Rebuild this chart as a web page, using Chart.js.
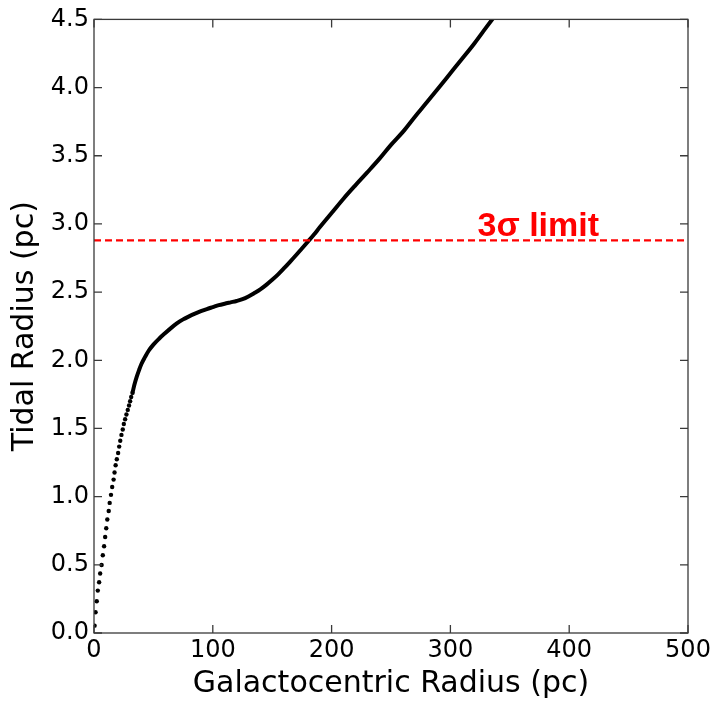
<!DOCTYPE html>
<html>
<head>
<meta charset="utf-8">
<script src="https://cdn.jsdelivr.net/npm/chart.js@4/dist/chart.umd.min.js"></script>
<style>
  html, body { margin: 0; padding: 0; background: #fff; }
  #wrap { width: 717px; height: 705px; }
</style>
</head>
<body>
<div id="wrap"><canvas id="c" width="717" height="705"></canvas></div>
<script>
// tidal radius vs galactocentric radius
// sparse start of the curve (individual dots visible)
const dotX = [0.5, 1.3, 2.3, 3.2, 4.3, 5.2, 6.4, 7.4, 8.5, 9.4, 10.3, 11.2, 12.4, 13.2, 14.3, 15.3,
  16.5, 17.3, 18.2, 19.2, 20.3, 21.2, 22.1, 23.1, 24.2, 25.1, 26.2, 27.3, 28.4, 29.5, 30.4, 31.3, 32.4];
const dotY = [0.054, 0.152, 0.233, 0.311, 0.372, 0.436, 0.499, 0.570, 0.636, 0.704, 0.768, 0.832, 0.895,
  0.954, 1.013, 1.071, 1.125, 1.177, 1.230, 1.274, 1.320, 1.367, 1.410, 1.453, 1.492, 1.533, 1.568,
  1.602, 1.636, 1.668, 1.700, 1.731, 1.761];
// dense part (dots merge into a solid curve)
const curveX = [32.4, 34, 36, 38, 40, 43, 46, 50, 55, 60, 65, 70, 75, 80, 85, 90, 95, 100, 105, 110,
  115, 120, 125, 130, 135, 140, 145, 150, 155, 160, 165, 170, 175, 180, 185, 190, 200, 210, 220, 230,
  240, 250, 260, 270, 280, 290, 300, 310, 320, 330, 340];
const curveY = [1.761, 1.82, 1.88, 1.93, 1.975, 2.025, 2.07, 2.115, 2.16, 2.20, 2.238, 2.272, 2.30,
  2.322, 2.342, 2.36, 2.376, 2.39, 2.404, 2.415, 2.425, 2.435, 2.448, 2.468, 2.493, 2.52, 2.553, 2.59,
  2.63, 2.675, 2.722, 2.77, 2.82, 2.87, 2.92, 2.975, 3.08, 3.185, 3.283, 3.378, 3.475, 3.58, 3.675,
  3.785, 3.89, 3.997, 4.105, 4.213, 4.322, 4.44, 4.555];

const limitY = 2.88;
const limitLabel = '3σ limit';
const limitLabelAt = [374, 2.915];

const xTicks = [0, 100, 200, 300, 400, 500];
const yTicks = [0.0, 0.5, 1.0, 1.5, 2.0, 2.5, 3.0, 3.5, 4.0, 4.5];

const FRAME = '#3a3a3a';

const toPts = (xs, ys) => xs.map((x, i) => ({ x, y: ys[i] }));

// matplotlib-style box with inward ticks on all four sides + the red label
const framePlugin = {
  id: 'frame',
  afterDatasetsDraw(chart) {
    const { ctx, chartArea: a, scales } = chart;
    ctx.save();
    ctx.strokeStyle = FRAME;
    ctx.lineWidth = 1.3;
    ctx.strokeRect(a.left, a.top, a.right - a.left, a.bottom - a.top);
    const len = 8;
    ctx.beginPath();
    xTicks.forEach((t) => {
      const px = scales.x.getPixelForValue(t);
      ctx.moveTo(px, a.bottom); ctx.lineTo(px, a.bottom - len);
      ctx.moveTo(px, a.top); ctx.lineTo(px, a.top + len);
    });
    yTicks.forEach((t) => {
      const py = scales.y.getPixelForValue(t);
      ctx.moveTo(a.left, py); ctx.lineTo(a.left + len, py);
      ctx.moveTo(a.right, py); ctx.lineTo(a.right - len, py);
    });
    ctx.stroke();

    ctx.fillStyle = '#ff0000';
    ctx.font = 'bold 34px "Liberation Sans", Arial, sans-serif';
    ctx.textAlign = 'center';
    ctx.textBaseline = 'alphabetic';
    ctx.fillText(limitLabel, scales.x.getPixelForValue(limitLabelAt[0]), scales.y.getPixelForValue(limitLabelAt[1]));
    ctx.restore();
  },
};

new Chart(document.getElementById('c'), {
  type: 'scatter',
  data: {
    datasets: [
      {
        data: [{ x: 0, y: limitY }, { x: 500, y: limitY }],
        showLine: true, borderColor: '#ff0000', borderWidth: 2.2, borderDash: [7, 4],
        pointRadius: 0,
      },
      {
        data: toPts(dotX, dotY),
        showLine: false, pointRadius: 2.2, pointBackgroundColor: '#000', pointBorderWidth: 0,
      },
      {
        data: toPts(curveX, curveY),
        showLine: true, borderColor: '#000', borderWidth: 4, cubicInterpolationMode: 'monotone',
        pointRadius: 0,
      },
    ],
  },
  options: {
    responsive: false, animation: false,
    layout: { padding: { left: 0, right: 29, top: 19, bottom: 0 } },
    plugins: { legend: { display: false }, tooltip: { enabled: false } },
    scales: {
      x: {
        type: 'linear', min: 0, max: 500,
        afterBuildTicks: (s) => { s.ticks = xTicks.map((v) => ({ value: v })); },
        afterFit: (s) => { s.height = 72; },
        grid: { display: false, drawTicks: false },
        border: { display: false },
        ticks: { color: '#000', padding: 3, font: { family: '"DejaVu Sans"', size: 24 } },
        title: { display: true, text: 'Galactocentric Radius (pc)', color: '#000', padding: { top: 0, bottom: 3 },
          font: { family: '"DejaVu Sans"', size: 30 } },
      },
      y: {
        type: 'linear', min: 0, max: 4.5,
        afterBuildTicks: (s) => { s.ticks = yTicks.map((v) => ({ value: v })); },
        afterFit: (s) => { s.width = 94; },
        grid: { display: false, drawTicks: false },
        border: { display: false },
        ticks: { color: '#000', padding: 5, font: { family: '"DejaVu Sans"', size: 24 },
          callback: (v) => Number(v).toFixed(1) },
        title: { display: true, text: 'Tidal Radius (pc)', color: '#000', padding: { top: 7, bottom: 0 },
          font: { family: '"DejaVu Sans"', size: 30 } },
      },
    },
  },
  plugins: [framePlugin],
});
</script>
</body>
</html>
